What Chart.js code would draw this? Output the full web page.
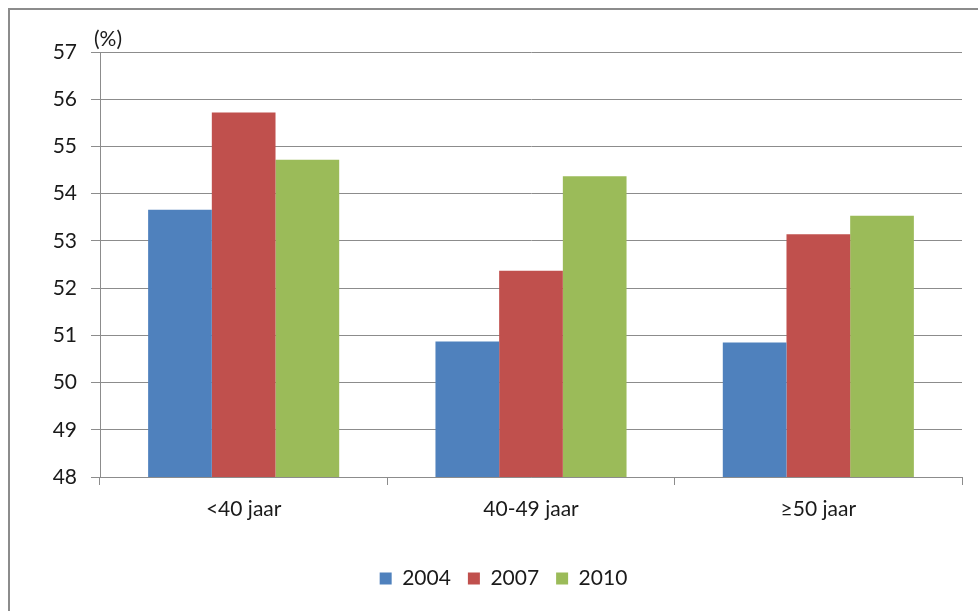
<!DOCTYPE html>
<html>
<head>
<meta charset="utf-8">
<script src="https://cdn.jsdelivr.net/npm/chart.js@4"></script>
<style>
  html, body { margin: 0; padding: 0; background: #fff; overflow: hidden; }
  #wrap { position: relative; width: 978px; height: 611px; }
  #frame {
    position: absolute; left: 8px; top: 8px; width: 2000px; height: 2000px;
    border-top: 2px solid #8c8c8c; border-left: 2px solid #8c8c8c;
  }
  #barChart { position: absolute; left: 0; top: 0; }
</style>
</head>
<body>
<div id="wrap">
  <div id="frame"></div>
  <canvas id="barChart" width="978" height="611"></canvas>
</div>
<script>
const categories = ["<40 jaar", "40-49 jaar", "\u226550 jaar"];
const years = ["2004", "2007", "2010"];
const values2004 = [53.66, 50.87, 50.85];
const values2007 = [55.72, 52.37, 53.14];
const values2010 = [54.72, 54.37, 53.53];
const colors = ["#4F81BD", "#C0504D", "#9BBB59"];
const yMin = 48;
const yMax = 57;

const textColor = "#1a1a1a";
const gridColor = "#8c8c8c";
const fontFamily = "Lato, 'Open Sans', sans-serif";
const fontSize = 21;

document.addEventListener("DOMContentLoaded", function () {

    const ctx = document.getElementById("barChart");

    // "(%)" unit label above the y axis
    const unitLabel = {
        id: "unitLabel",
        afterDraw(chart) {
            const c = chart.ctx;
            c.save();
            c.font = fontSize + "px " + fontFamily;
            c.fillStyle = textColor;
            c.textAlign = "left";
            c.textBaseline = "middle";
            c.fillText("(%)", chart.chartArea.left - 6, 39);
            c.restore();
        }
    };

    new Chart(ctx, {
        type: "bar",
        data: {
            labels: categories,
            datasets: [
                { label: years[0], data: values2004, backgroundColor: colors[0] },
                { label: years[1], data: values2007, backgroundColor: colors[1] },
                { label: years[2], data: values2010, backgroundColor: colors[2] }
            ]
        },
        options: {
            responsive: false,
            animation: false,
            devicePixelRatio: 1,
            categoryPercentage: 0.665,
            barPercentage: 1,
            layout: { padding: { left: 45, right: 16, top: 52, bottom: 12 } },
            plugins: {
                legend: {
                    position: "bottom",
                    labels: {
                        boxWidth: 12,
                        boxHeight: 12,
                        padding: 17,
                        color: textColor,
                        font: { family: fontFamily, size: fontSize }
                    }
                },
                tooltip: { enabled: false }
            },
            scales: {
                x: {
                    grid: {
                        drawOnChartArea: false,
                        drawTicks: true,
                        tickLength: 8,
                        color: gridColor
                    },
                    border: { color: gridColor, width: 1 },
                    ticks: {
                        color: textColor,
                        padding: 12,
                        font: { family: fontFamily, size: fontSize }
                    },
                    afterFit(scale) { scale.height = 74; }
                },
                y: {
                    min: yMin,
                    max: yMax,
                    grid: {
                        color: gridColor,
                        tickLength: 9,
                        lineWidth: 1
                    },
                    border: { color: gridColor, width: 1 },
                    ticks: {
                        stepSize: 1,
                        color: textColor,
                        padding: 14,
                        font: { family: fontFamily, size: fontSize }
                    },
                    afterFit(scale) { scale.width = 55; }
                }
            }
        },
        plugins: [unitLabel]
    });
});
</script>
</body>
</html>
